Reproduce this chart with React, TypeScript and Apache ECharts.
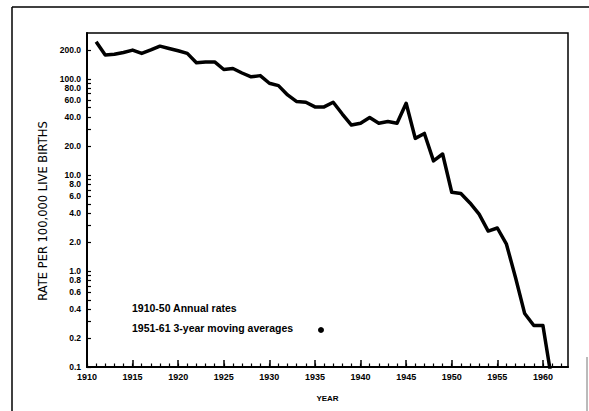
import React, { useEffect, useRef } from "react";
import * as echarts from "echarts";

const years = [
  1911, 1912, 1913, 1914, 1915, 1916, 1917, 1918, 1919, 1920,
  1921, 1922, 1923, 1924, 1925, 1926, 1927, 1928, 1929, 1930,
  1931, 1932, 1933, 1934, 1935, 1936, 1937, 1938, 1939, 1940,
  1941, 1942, 1943, 1944, 1945, 1946, 1947, 1948, 1949, 1950,
  1951, 1952, 1953, 1954, 1955, 1956, 1957, 1958, 1959, 1960,
  1961,
];

const rates = [
  243, 177, 180, 188, 199, 184, 200, 219, 207, 196,
  184, 147, 150, 150, 125, 128, 115, 105, 108, 90,
  85, 68, 58, 57, 51, 51, 57, 43, 33, 34.5,
  39.5, 34.5, 36, 34.5, 55.7, 24, 27, 14, 16.5, 6.6,
  6.4, 5.1, 3.9, 2.6, 2.8, 1.9, 0.85, 0.36, 0.27, 0.27,
  0.07,
];

const xLabelYears = [1910, 1915, 1920, 1925, 1930, 1935, 1940, 1945, 1950, 1955, 1960];

const xYearTicks = [
  1910, 1911, 1912, 1913, 1914, 1915, 1916, 1917, 1918, 1919,
  1920, 1921, 1922, 1923, 1924, 1925, 1926, 1927, 1928, 1929,
  1930, 1931, 1932, 1933, 1934, 1935, 1936, 1937, 1938, 1939,
  1940, 1941, 1942, 1943, 1944, 1945, 1946, 1947, 1948, 1949,
  1950, 1951, 1952, 1953, 1954, 1955, 1956, 1957, 1958, 1959,
  1960, 1961, 1962,
];

const yLabelValues = [0.1, 0.2, 0.4, 0.6, 0.8, 1, 2, 4, 6, 8, 10, 20, 40, 60, 80, 100, 200];

const yTickValues = [
  0.1, 0.2, 0.3, 0.4, 0.5, 0.6, 0.7, 0.8, 0.9,
  1, 2, 3, 4, 5, 6, 7, 8, 9,
  10, 20, 30, 40, 50, 60, 70, 80, 90,
  100, 200,
];

const yAxisTitle = "RATE PER 100,000 LIVE BIRTHS";
const xAxisTitle = "YEAR";
const legendLines = ["1910-50 Annual rates", "1951-61 3-year moving averages"];

export default function App() {
  const ref = useRef<HTMLDivElement>(null);

  useEffect(() => {
    if (!ref.current) return;
    const chart = echarts.init(ref.current, null, { renderer: "svg" });
    const labelFont = {
      fontFamily: "Liberation Sans",
      fontWeight: "bold" as const,
      color: "#000",
    };
    chart.setOption({
      animation: false,
      backgroundColor: "#fff",
      grid: {
        left: 87,
        top: 33,
        right: 21,
        bottom: 44,
        show: true,
        borderColor: "#000",
        borderWidth: 1.5,
        backgroundColor: "transparent",
      },
      xAxis: [
        {
          type: "value",
          min: 1910,
          max: 1962.75,
          position: "bottom",
          name: xAxisTitle,
          nameLocation: "middle",
          nameGap: 27,
          nameTextStyle: { ...labelFont, fontSize: 8 },
          axisLine: { show: true, lineStyle: { color: "#000", width: 2 } },
          axisTick: {
            show: true,
            inside: true,
            length: 7,
            customValues: xLabelYears,
            lineStyle: { color: "#000", width: 1.5 },
          },
          axisLabel: {
            ...labelFont,
            fontSize: 9,
            margin: 5,
            customValues: xLabelYears,
            formatter: (v: number) => String(v),
          },
          splitLine: { show: false },
        },
        {
          type: "value",
          min: 1910,
          max: 1962.75,
          position: "bottom",
          axisLine: { show: false },
          axisTick: {
            show: true,
            inside: true,
            length: 3.5,
            customValues: xYearTicks,
            lineStyle: { color: "#000", width: 1.2 },
          },
          axisLabel: { show: false },
          splitLine: { show: false },
        },
      ],
      yAxis: {
        type: "log",
        logBase: 10,
        min: 0.1,
        max: 300,
        name: yAxisTitle,
        nameLocation: "middle",
        nameGap: 34,
        nameTextStyle: {
          fontFamily: "DejaVu Sans",
          fontSize: 11.5,
          color: "#000",
          padding: [0, 22, 0, 0],
        },
        axisLine: { show: true, lineStyle: { color: "#000", width: 2 } },
        axisTick: {
          show: true,
          inside: true,
          length: 4,
          customValues: yTickValues,
          lineStyle: { color: "#000", width: 1.2 },
        },
        axisLabel: {
          ...labelFont,
          fontSize: 8.5,
          lineHeight: 8,
          margin: 6,
          customValues: yLabelValues,
          formatter: (v: number) => Number(v).toFixed(1),
        },
        splitLine: { show: false },
        minorTick: { show: false },
      },
      series: [
        {
          type: "line",
          xAxisIndex: 0,
          yAxisIndex: 0,
          data: years.map((y, i) => [y, rates[i]]),
          symbol: "none",
          clip: true,
          lineStyle: { color: "#000", width: 3.5, join: "round" },
        },
      ],
      graphic: [
        {
          type: "line",
          shape: { x1: 12, y1: 7, x2: 12, y2: 411 },
          style: { stroke: "#000", lineWidth: 1.5 },
        },
        {
          type: "line",
          shape: { x1: 12, y1: 7, x2: 589, y2: 7 },
          style: { stroke: "#000", lineWidth: 1.5 },
        },
        {
          type: "line",
          shape: { x1: 587, y1: 357, x2: 587, y2: 411 },
          style: { stroke: "#777", lineWidth: 1 },
        },
        {
          type: "text",
          left: 132,
          top: 302,
          style: {
            text: legendLines[0],
            fontFamily: "Liberation Sans",
            fontWeight: "bold",
            fontSize: 10.5,
            fill: "#000",
          },
        },
        {
          type: "text",
          left: 132,
          top: 322,
          style: {
            text: legendLines[1],
            fontFamily: "Liberation Sans",
            fontWeight: "bold",
            fontSize: 10.5,
            fill: "#000",
          },
        },
        {
          type: "circle",
          shape: { cx: 321, cy: 330, r: 3 },
          style: { fill: "#000" },
        },
      ],
    });
    return () => chart.dispose();
  }, []);

  return (
    <div
      ref={ref}
      style={{ position: "fixed", left: 0, top: 0, width: 589, height: 411, background: "#fff" }}
    />
  );
}
